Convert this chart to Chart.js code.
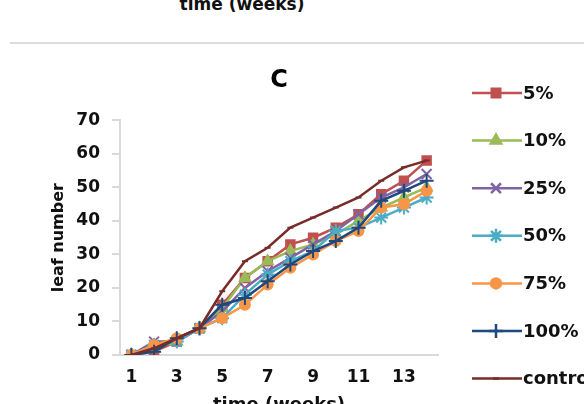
<!DOCTYPE html>
<html>
<head>
<meta charset="utf-8">
<script src="https://cdn.jsdelivr.net/npm/chart.js@4.4.1/dist/chart.umd.min.js"></script>
<style>
  html, body { margin: 0; padding: 0; background: #fff; overflow: hidden; }
  #page { position: relative; width: 584px; height: 404px; overflow: hidden; }
  #prevLabel {
    position: absolute; left: 0; width: 484px; top: -6px; text-align: center;
    font: bold 17px "DejaVu Sans", sans-serif; color: #111;
  }
  #divider { position: absolute; left: 10px; right: 0; top: 42px; height: 2px; background: #dcdcdc; }
  #wrap { position: absolute; left: 0; top: 0; width: 640px; height: 430px; }
</style>
</head>
<body>
<div id="page">
  <div id="prevLabel">time (weeks)</div>
  <div id="divider"></div>
  <div id="wrap"><canvas id="leafChart" width="640" height="430"></canvas></div>
</div>
<script>
// weeks after planting
const weeks = [1, 2, 3, 4, 5, 6, 7, 8, 9, 10, 11, 12, 13, 14];

// leaf number per treatment
const pct5    = [0, 1, 4, 8, 15, 23, 28, 33, 35, 38, 42, 48, 52, 58];
const pct10   = [0, 2, 4, 8, 14, 23, 28, 31, 33, 36, 40, 44, 47, 50];
const pct25   = [0, 4, 4, 8, 13, 20, 25, 29, 33, 37, 42, 47, 50, 54];
const pct50   = [0, 3, 4, 8, 11, 18, 24, 28, 31, 37, 38, 41, 44, 47];
const pct75   = [0, 3, 5, 8, 11, 15, 21, 26, 30, 34, 37, 44, 45, 49];
const pct100  = [0, 1, 5, 8, 15, 17, 22, 27, 31, 34, 38, 46, 49, 52];
const control = [0, 2, 5, 8, 19, 28, 32, 38, 41, 44, 47, 52, 56, 58];

const seriesNames = ['5%', '10%', '25%', '50%', '75%', '100%', 'control'];
const yTicks = [0, 10, 20, 30, 40, 50, 60, 70];

const FONT = '"DejaVu Sans", sans-serif';

const styles = [
    { color: '#C0504D', point: 'rect',     radius: 6 },
    { color: '#9BBB59', point: 'triangle', radius: 6 },
    { color: '#8064A2', point: 'crossRot', radius: 7 },
    { color: '#4BACC6', point: 'star',     radius: 7 },
    { color: '#F79646', point: 'circle',   radius: 5 },
    { color: '#1F497D', point: 'cross',    radius: 7 },
    { color: '#772C2A', point: 'line',     radius: 3 }
];

const seriesData = [pct5, pct10, pct25, pct50, pct75, pct100, control];

const datasets = seriesData.map(function (values, i) {
    const s = styles[i];
    return {
        label: seriesNames[i],
        data: values,
        borderColor: s.color,
        backgroundColor: s.color,
        borderWidth: 2.5,
        pointStyle: s.point,
        pointRadius: s.radius,
        pointBorderWidth: 2,
        pointBorderColor: s.color,
        pointBackgroundColor: s.color,
        tension: 0,
        order: seriesData.length - 1 - i   // later series on top
    };
});

// Legend drawn to the right: short line with the marker in the middle
const sideLegend = {
    id: 'sideLegend',
    afterDraw(chart) {
        const ctx = chart.ctx;
        ctx.save();
        chart.data.datasets.forEach(function (ds, i) {
            const y = 93 + i * 47.6;
            ctx.strokeStyle = ds.borderColor;
            ctx.lineWidth = 2.5;
            ctx.beginPath();
            ctx.moveTo(472, y);
            ctx.lineTo(522, y);
            ctx.stroke();
            ctx.fillStyle = ds.backgroundColor;
            Chart.helpers.drawPoint(ctx, {
                pointStyle: ds.pointStyle,
                radius: ds.pointRadius,
                borderWidth: 2,
                rotation: 0
            }, 496, y);
            ctx.fillStyle = '#111';
            ctx.font = 'bold 18px ' + FONT;
            ctx.textAlign = 'left';
            ctx.textBaseline = 'middle';
            ctx.fillText(ds.label, 523, y + 1);
        });
        ctx.restore();
    }
};

new Chart(document.getElementById('leafChart'), {
    type: 'line',
    data: { labels: weeks, datasets: datasets },
    plugins: [sideLegend],
    options: {
        responsive: false,
        animation: false,
        layout: { padding: { left: 0, right: 202, top: 0, bottom: 0 } },
        plugins: {
            legend: { display: false },
            tooltip: { enabled: false },
            title: {
                display: true,
                text: 'C',
                fullSize: false,
                color: '#000',
                font: { family: FONT, size: 24, weight: 'bold' },
                padding: { top: 66, bottom: 25.6 }
            }
        },
        scales: {
            x: {
                type: 'category',
                offset: true,
                grid: { display: false, drawTicks: false },
                border: { display: true, color: '#d9d9d9', width: 2 },
                ticks: {
                    autoSkip: false,
                    maxRotation: 0,
                    padding: 12,
                    color: '#111',
                    font: { family: FONT, size: 17, weight: 'bold' },
                    callback: function (v, idx) {
                        return weeks[idx] % 2 === 1 ? String(weeks[idx]) : '';
                    }
                },
                title: {
                    display: true,
                    text: 'time (weeks)',
                    color: '#111',
                    font: { family: FONT, size: 18, weight: 'bold' },
                    padding: { top: 0, bottom: 14 }
                },
                afterFit: function (axis) { axis.height = 75; }
            },
            y: {
                min: 0,
                max: 70,
                afterBuildTicks: function (axis) {
                    axis.ticks = yTicks.map(function (v) { return { value: v }; });
                },
                grid: {
                    display: true,
                    drawOnChartArea: false,
                    drawTicks: true,
                    tickLength: 8,
                    color: '#d9d9d9',
                    lineWidth: 2
                },
                border: { display: true, color: '#d9d9d9', width: 2 },
                ticks: {
                    padding: 12,
                    color: '#111',
                    font: { family: FONT, size: 17, weight: 'bold' }
                },
                title: {
                    display: true,
                    text: 'leaf number',
                    color: '#111',
                    font: { family: FONT, size: 16, weight: 'bold' },
                    padding: { top: 49, bottom: 0 }
                },
                afterFit: function (axis) { axis.width = 120; }
            }
        }
    }
});
</script>
</body>
</html>
